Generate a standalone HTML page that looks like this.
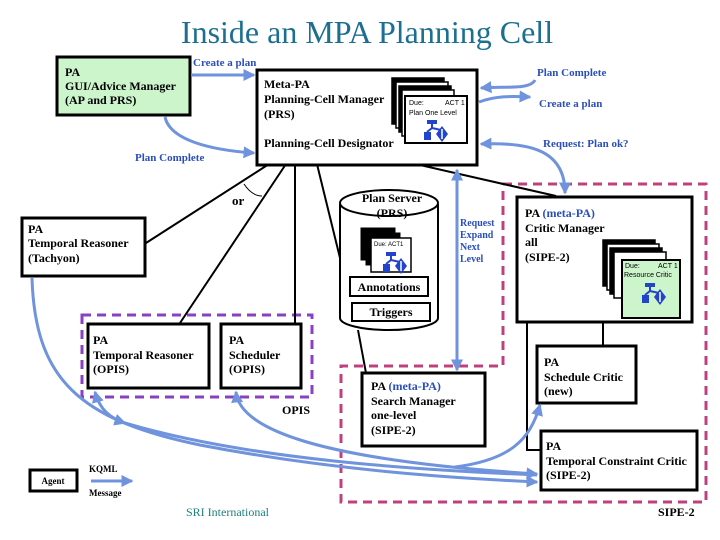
<!DOCTYPE html>
<html><head><meta charset="utf-8"><style>
body{margin:0;background:#fff}
svg{display:block}
text{font-family:"Liberation Serif",serif;}
.b{font-size:12px;font-weight:bold;fill:#000}
.bl{font-size:11px;font-weight:bold;fill:#2a4fb8}
</style></head><body>
<svg width="720" height="540" viewBox="0 0 720 540" xmlns="http://www.w3.org/2000/svg">
<defs>
<marker id="ah" markerWidth="4" markerHeight="4" refX="3.5" refY="2" orient="auto" markerUnits="strokeWidth"><path d="M0,0 L4,2 L0,4 z" fill="#6f93dc"/></marker>
<marker id="as" markerWidth="4" markerHeight="4" refX="0.5" refY="2" orient="auto" markerUnits="strokeWidth"><path d="M4,0 L0,2 L4,4 z" fill="#6f93dc"/></marker>
<g id="icon"><rect x="0" y="0" width="10" height="4" fill="#2244cc"/><path d="M5,4 V8 M5,8 L0,12 M5,8 L14,10" stroke="#2244cc" stroke-width="2" fill="none"/><rect x="-3" y="12" width="7" height="8" fill="#2244cc"/><path d="M15,6 L21,14 L15,22 L9,14 Z" fill="#2244cc"/><path d="M15,9 V19" stroke="#fff" stroke-width="1.5"/></g>
</defs>
<text x="367" y="43" text-anchor="middle" style="font-size:32px;fill:#1d6f91">Inside an MPA Planning Cell</text>

<path d="M503,184 H706 V502 H341 V366 H503 Z" fill="none" stroke="#c0407e" stroke-width="3" stroke-dasharray="9,6"/>
<rect x="82" y="315" width="230" height="82" fill="none" stroke="#8a40c0" stroke-width="3" stroke-dasharray="9,6"/>

<g stroke="#000" stroke-width="2" fill="none">
<line x1="280" y1="157" x2="146" y2="243"/>
<line x1="290" y1="158" x2="180" y2="323"/>
<line x1="295" y1="158" x2="295" y2="323"/>
<line x1="315" y1="156" x2="340" y2="258"/>
<line x1="376" y1="155" x2="556" y2="196"/>
<line x1="358" y1="330" x2="366" y2="373"/>
<path d="M527,322 V450 H541"/>
<line x1="603" y1="322" x2="603" y2="346"/>
<path d="M244,184 Q252,196 262,196" stroke-width="1"/>
</g>
<text x="232" y="205" class="b" style="font-size:13px">or</text>

<rect x="57" y="57" width="133" height="58" fill="#ccf5cc" stroke="#000" stroke-width="3"/>
<text class="b"><tspan x="65" y="76">PA</tspan><tspan x="65" y="90">GUI/Advice Manager</tspan><tspan x="65" y="104">(AP and PRS)</tspan></text>

<rect x="257" y="70" width="220" height="95" fill="#fff" stroke="#000" stroke-width="3"/>
<text class="b"><tspan x="264" y="88">Meta-PA</tspan><tspan x="264" y="103">Planning-Cell Manager</tspan><tspan x="264" y="118">(PRS)</tspan><tspan x="264" y="147">Planning-Cell Designator</tspan></text>
<g stroke="#000" stroke-width="1.5">
<rect x="392" y="78" width="52" height="46" fill="#000"/>
<rect x="396" y="82" width="52" height="46" fill="#fff"/>
<rect x="399" y="86" width="52" height="46" fill="#000"/>
<rect x="402" y="90" width="52" height="46" fill="#fff"/>
<rect x="405" y="96" width="62" height="47" fill="#fff" stroke-width="2"/>
</g>
<text x="409" y="105" style="font-family:'Liberation Sans';font-size:7px">Due:</text><text x="445" y="105" style="font-family:'Liberation Sans';font-size:7px">ACT 1</text>
<text x="409" y="115" style="font-family:'Liberation Sans';font-size:7px">Plan One Level</text>
<use href="#icon" x="427" y="120"/>

<rect x="22" y="218" width="123" height="58" fill="#fff" stroke="#000" stroke-width="3"/>
<text class="b"><tspan x="28" y="233">PA</tspan><tspan x="28" y="247">Temporal Reasoner</tspan><tspan x="28" y="262">(Tachyon)</tspan></text>

<path d="M340,204 V318 A49,12 0 0 0 438,318 V204" fill="#fff" stroke="#000" stroke-width="2"/>
<ellipse cx="389" cy="203" rx="49" ry="13" fill="#fff" stroke="#000" stroke-width="2"/>
<text class="b" text-anchor="middle"><tspan x="392" y="202">Plan Server</tspan><tspan x="392" y="217">(PRS)</tspan></text>
<g stroke="#000" stroke-width="1"><rect x="361" y="228" width="34" height="32" fill="#000"/><rect x="366" y="233" width="34" height="32" fill="#000"/><rect x="371" y="238" width="40" height="34" fill="#fff" stroke-width="1.5"/></g>
<text x="374" y="246" style="font-family:'Liberation Sans';font-size:6px">Due:   ACT1</text>
<use href="#icon" x="386" y="252"/>
<rect x="350" y="277" width="78" height="19" fill="#fff" stroke="#000" stroke-width="2"/>
<text x="389" y="291" class="b" text-anchor="middle">Annotations</text>
<rect x="352" y="303" width="78" height="18" fill="#fff" stroke="#000" stroke-width="2"/>
<text x="391" y="316" class="b" text-anchor="middle">Triggers</text>

<rect x="517" y="197" width="175" height="125" fill="#fff" stroke="#000" stroke-width="3"/>
<text class="b"><tspan x="525" y="217">PA  </tspan><tspan fill="#2a4fb8">(meta-PA)</tspan><tspan x="525" y="232">Critic Manager</tspan><tspan x="525" y="246">all</tspan><tspan x="525" y="261">(SIPE-2)</tspan></text>
<g stroke="#000" stroke-width="1.5">
<rect x="603" y="240" width="52" height="46" fill="#000"/>
<rect x="607" y="244" width="52" height="46" fill="#fff"/>
<rect x="610" y="248" width="52" height="46" fill="#000"/>
<rect x="614" y="252" width="52" height="46" fill="#fff"/>
<rect x="622" y="260" width="58" height="58" fill="#ccf5cc" stroke-width="2"/>
</g>
<text x="625" y="268" style="font-family:'Liberation Sans';font-size:7px">Due:</text><text x="658" y="268" style="font-family:'Liberation Sans';font-size:7px">ACT 1</text>
<text x="624" y="277" style="font-family:'Liberation Sans';font-size:7px">Resource Critic</text>
<use href="#icon" x="645" y="283"/>

<rect x="88" y="324" width="121" height="64" fill="#fff" stroke="#000" stroke-width="3"/>
<text class="b"><tspan x="93" y="344">PA</tspan><tspan x="93" y="359">Temporal Reasoner</tspan><tspan x="93" y="373">(OPIS)</tspan></text>
<rect x="221" y="324" width="80" height="64" fill="#fff" stroke="#000" stroke-width="3"/>
<text class="b"><tspan x="229" y="344">PA</tspan><tspan x="229" y="359">Scheduler</tspan><tspan x="229" y="373">(OPIS)</tspan></text>
<text x="282" y="414" class="b">OPIS</text>

<rect x="362" y="373" width="123" height="73" fill="#fff" stroke="#000" stroke-width="3"/>
<text class="b"><tspan x="371" y="390">PA  </tspan><tspan fill="#2a4fb8">(meta-PA)</tspan><tspan x="371" y="405">Search Manager</tspan><tspan x="371" y="419">one-level</tspan><tspan x="371" y="434">(SIPE-2)</tspan></text>

<rect x="537" y="346" width="99" height="57" fill="#fff" stroke="#000" stroke-width="3"/>
<text class="b"><tspan x="544" y="366">PA</tspan><tspan x="544" y="381">Schedule Critic</tspan><tspan x="544" y="395">(new)</tspan></text>
<rect x="541" y="431" width="156" height="59" fill="#fff" stroke="#000" stroke-width="3"/>
<text class="b"><tspan x="546" y="450">PA</tspan><tspan x="546" y="465">Temporal Constraint Critic</tspan><tspan x="546" y="479">(SIPE-2)</tspan></text>
<text x="658" y="516" class="b">SIPE-2</text>

<g stroke="#6f93dc" stroke-width="3" fill="none">
<line x1="191" y1="75" x2="254" y2="75" marker-end="url(#ah)"/>
<path d="M165,117 C170,140 210,150 254,153" marker-end="url(#ah)"/>
<path d="M535,80 C530,90 505,86 481,88" marker-end="url(#ah)"/>
<path d="M479,102 C495,96 510,96 530,97" marker-end="url(#ah)"/>
<path d="M481,144 C530,142 565,150 565,193" marker-start="url(#as)" marker-end="url(#ah)"/>
<line x1="457" y1="170" x2="457" y2="370" marker-start="url(#as)" marker-end="url(#ah)"/>
<path d="M32,278 C35,380 80,420 200,445 C330,470 450,478 537,482" marker-end="url(#ah)"/>
<path d="M95,392 C100,410 110,418 125,423" marker-start="url(#as)" marker-end="url(#ah)"/>
<path d="M125,423 C250,460 420,470 537,475" />
<path d="M236,392 C240,430 320,460 537,474" marker-start="url(#as)" marker-end="url(#ah)"/>
<path d="M455,467 C510,460 530,440 540,405" marker-end="url(#ah)"/>
<line x1="91" y1="481" x2="132" y2="481" marker-end="url(#ah)"/>
</g>
<text x="193" y="66" class="bl">Create a plan</text>
<text x="135" y="161" class="bl">Plan Complete</text>
<text x="537" y="76" class="bl">Plan Complete</text>
<text x="539" y="107" class="bl">Create a plan</text>
<text x="543" y="147" class="bl">Request: Plan ok?</text>
<text class="bl" style="font-size:10px"><tspan x="460" y="226">Request</tspan><tspan x="460" y="238">Expand</tspan><tspan x="460" y="250">Next</tspan><tspan x="460" y="262">Level</tspan></text>

<rect x="30" y="470" width="47" height="21" fill="#fff" stroke="#000" stroke-width="3"/>
<text x="53" y="484" text-anchor="middle" style="font-size:9px;font-weight:bold">Agent</text>
<text x="89" y="472" style="font-size:9px;font-weight:bold">KQML</text>
<text x="89" y="496" style="font-size:9px;font-weight:bold">Message</text>
<text x="186" y="516" style="font-size:12px;fill:#1f8080">SRI International</text>
</svg>
</body></html>
